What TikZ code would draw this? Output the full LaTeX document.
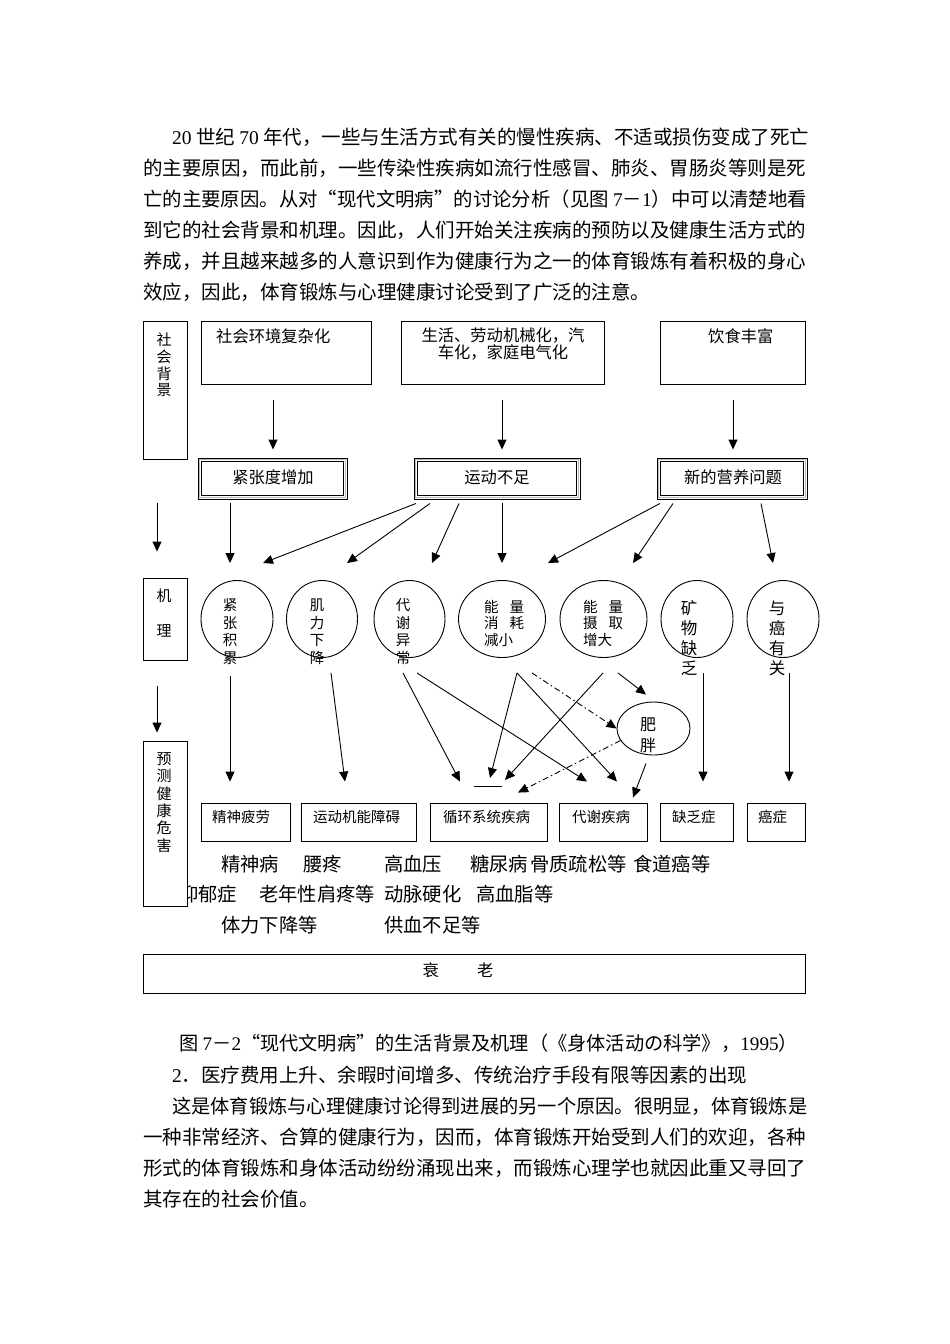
\documentclass[tikz,border=0pt]{standalone}
\usepackage{fontspec}
\setmainfont{Noto Sans CJK SC}
\newfontfamily\lat{Liberation Serif}
\usetikzlibrary{arrows.meta,calc,shapes.geometric}
\newcommand\myoq{\makebox[1em][r]{“}}
\newcommand\mycq{\makebox[1em][l]{”}}
\newcommand\rbox[6][]{\node[box,#1,minimum width={(#5-#3)*1pt},minimum height={(#6-#4)*1pt}] (#2) at ({(#3+#5)/2},{(#4+#6)/2}) {};}
\newcommand\dblin[1]{%
  \draw[gray!55,line width=1pt] ($(#1.north west)+(2,2)$) rectangle ($(#1.south east)+(-2,-2)$);
  \draw[line width=1.3pt] ($(#1.north west)+(3.8,3.8)$) rectangle ($(#1.south east)+(-3.8,-3.8)$);}
\begin{document}
\begin{tikzpicture}[x=1pt,y=-1pt,
  box/.style={draw,line width=0.9pt,inner sep=0,fill=white},
  circ/.style={draw,ellipse,line width=0.9pt,inner sep=0},
  arr/.style={-{Triangle[length=10pt,width=9pt]},line width=0.9pt},
  ddarr/.style={arr,dash pattern=on 6pt off 3pt on 1.5pt off 3pt},
  body/.style={inner sep=0,anchor=west,font=\fontsize{19.5}{19.5}\selectfont},
  row/.style={inner sep=0,anchor=west,font=\fontsize{19.3}{19.3}\selectfont},
  t16/.style={inner sep=0,font=\fontsize{16.3}{17}\selectfont},
  small/.style={inner sep=0,anchor=west,font=\fontsize{14.5}{14.5}\selectfont},
  vt/.style={inner sep=0,align=center,font=\fontsize{14.5}{17.5}\selectfont},
  vtb/.style={inner sep=0,align=center,font=\fontsize{16.5}{20}\selectfont},
  lv/.style={inner sep=0,align=center,font=\fontsize{15}{17.3}\selectfont}]
\useasboundingbox[fill=white] (0,0) rectangle (950,1344);

% ---------- body text above ----------
\node[body] (p1) at (172,137) {{\lat 20} 世纪 {\lat 70} 年代，一些与生活方式有关的慢性疾病、不适或损伤变成了死亡};
\node[body] (p2) at (143,168) {的主要原因，而此前，一些传染性疾病如流行性感冒、肺炎、胃肠炎等则是死};
\node[body,font=\fontsize{19.4}{19.4}\selectfont] (p3) at (143,199) {亡的主要原因。从对\myoq 现代文明病\mycq 的讨论分析（见图 {\lat 7}－{\lat 1}）中可以清楚地看};
\node[body] (p4) at (143,230) {到它的社会背景和机理。因此，人们开始关注疾病的预防以及健康生活方式的};
\node[body] (p5) at (143,261) {养成，并且越来越多的人意识到作为健康行为之一的体育锻炼有着积极的身心};
\node[body] (p6) at (143,292) {效应，因此，体育锻炼与心理健康讨论受到了广泛的注意。};

% ---------- top boxes ----------
\rbox{T1}{201}{321}{371}{384}
\rbox{T2}{401}{321}{604}{384}
\rbox{T3}{660}{321}{805}{384}
\node[t16,anchor=west] (T1t) at (216,336) {社会环境复杂化};
\node[t16,align=center] (T2t) at (503,344.5) {生活、劳动机械化，汽\\车化，家庭电气化};
\node[t16,anchor=west] (T3t) at (708,336) {饮食丰富};

% ---------- double boxes ----------
\rbox{D1}{198}{458}{347}{499}\dblin{D1}
\rbox{D2}{414}{458}{580}{499}\dblin{D2}
\rbox{D3}{657}{458}{807}{499}\dblin{D3}
\node[t16] (D1t) at (273,477) {紧张度增加};
\node[t16] (D2t) at (497,477) {运动不足};
\node[t16] (D3t) at (733,477) {新的营养问题};

\draw[arr] ($(T1.south)+(-13,16)$) -- ($(D1.north)+(0.5,-8)$);
\draw[arr] ($(T2.south)+(-0.5,16)$) -- ($(D2.north)+(5,-8)$);
\draw[arr] ($(T3.south)+(0.5,16)$) -- ($(D3.north)+(1,-8)$);

% ---------- mechanism ellipses ----------
\node[circ,minimum width=72pt,minimum height=77pt] (c1) at (237,619) {};
\node[circ,minimum width=71pt,minimum height=77pt] (c2) at (322,619) {};
\node[circ,minimum width=71pt,minimum height=77pt] (c3) at (409.5,619) {};
\node[circ,minimum width=87pt,minimum height=77pt] (c4) at (502,619) {};
\node[circ,minimum width=87pt,minimum height=77pt] (c5) at (603.5,619) {};
\node[circ,minimum width=72pt,minimum height=77pt] (c6) at (697,619) {};
\node[circ,minimum width=72pt,minimum height=77pt] (c7) at (783,619) {};
\node[vt] (c1t) at (230,631.5) {紧\\张\\积\\累};
\node[vt] (c2t) at (317,631.5) {肌\\力\\下\\降};
\node[vt] (c3t) at (403,631.5) {代\\谢\\异\\常};
\node[vt,align=left,anchor=west,font=\fontsize{14.5}{16.5}\selectfont] (c4t) at (484,623) {能\hspace{11pt}量\\消\hspace{11pt}耗\\减小};
\node[vt,align=left,anchor=west,font=\fontsize{14.5}{16.5}\selectfont] (c5t) at (583,623) {能\hspace{11pt}量\\摄\hspace{11pt}取\\增大};
\node[vtb] (c6t) at (689,638) {矿\\物\\缺\\乏};
\node[vtb] (c7t) at (777,638) {与\\癌\\有\\关};

\node[circ,minimum width=73pt,minimum height=53pt] (fat) at (653.5,728.5) {};
\node[inner sep=0,align=center,font=\fontsize{16}{21}\selectfont] (fatt) at (648,735) {肥\\胖};

% arrows double boxes -> ellipses
\draw[arr] ($(D1.south)+(-42.5,4)$) -- ($(c1.north)+(-7,-17)$);
\draw[arr] ($(D2.south)+(-81,4)$) -- ($(c1.north)+(26,-17)$);
\draw[arr] ($(D2.south)+(-67,4)$) -- ($(c2.north)+(25,-17)$);
\draw[arr] ($(D2.south)+(-38,4)$) -- ($(c3.north)+(22.5,-17)$);
\draw[arr] ($(D2.south)+(5,4)$) -- ($(c4.north)+(0,-17)$);
\draw[arr] ($(D3.south)+(-72,4)$) -- ($(c4.north)+(46,-17)$);
\draw[arr] ($(D3.south)+(-59,4)$) -- ($(c5.north)+(29.5,-17)$);
\draw[arr] ($(D3.south)+(29,4)$) -- ($(c7.north)+(-10,-17)$);

% ---------- bottom boxes ----------
\rbox{r1}{201}{803}{290}{841}
\rbox{r2}{301}{803}{416}{841}
\rbox{r3}{430}{803}{547}{841}
\rbox{r4}{559}{803}{647}{841}
\rbox{r5}{660}{803}{733}{841}
\rbox{r6}{747}{803}{805}{841}
\node[small] (r1t) at (212,817) {精神疲劳};
\node[small] (r2t) at (313,817) {运动机能障碍};
\node[small] (r3t) at (443,817) {循环系统疾病};
\node[small] (r4t) at (572,817) {代谢疾病};
\node[small] (r5t) at (672,817) {缺乏症};
\node[small] (r6t) at (758,817) {癌症};

% short bar
\coordinate (barL) at (474,786);
\coordinate (barR) at (502,786);
\draw[line width=0.9pt] (barL) -- (barR);

% arrows ellipses -> diseases
\draw[arr] ($(c1.south)+(-7,18)$) -- ($(r1.north)+(-15.5,-21)$);
\draw[arr] ($(c2.south)+(9,15)$) -- ($(r2.north)+(-13.5,-21)$);
\draw[arr] ($(c3.south)+(-6.5,15)$) -- ($(r3.north)+(-28.5,-21)$);
\draw[arr] ($(c3.south)+(7.5,15)$) -- ($(r4.north)+(-16,-21)$);
\draw[arr] ($(c4.south)+(15,15)$) -- ($(barL)+(16,-8)$);
\draw[arr] ($(c4.south)+(15,15)$) -- ($(r4.north)+(14,-21)$);
\draw[ddarr] ($(c4.south)+(30,15)$) -- (fat.west);
\draw[arr] ($(c5.south)+(-0.5,15)$) -- ($(barR)+(3,-6)$);
\draw[arr] ($(c5.south)+(14.5,15)$) -- ($(fat.north)+(-7.5,-7)$);
\draw[ddarr] (fat.200) -- ($(r3.north)+(29.5,-10)$);
\draw[arr] ($(fat.south)+(-7.5,8)$) -- ($(r4.north)+(30,-5)$);
\draw[arr] ($(c6.south)+(6,15)$) -- ($(r5.north)+(6.5,-21)$);
\draw[arr] ($(c7.south)+(6,15)$) -- ($(r6.north)+(13,-21)$);

% ---------- text rows ----------
\node[row] (e1) at (221,864) {精神病};
\node[row] (e2) at (303,864) {腰疼};
\node[row] (e3) at (384,864) {高血压};
\node[row] (e4) at (470,864) {糖尿病};
\node[row] (e5) at (530,864) {骨质疏松等};
\node[row] (e6) at (633,864) {食道癌等};
\node[row] (f1) at (179,894) {抑郁症};
\node[row] (f2) at (259,894) {老年性肩疼等};
\node[row] (f3) at (384,894) {动脉硬化};
\node[row] (f4) at (476,894) {高血脂等};
\node[row] (g1) at (221,925) {体力下降等};
\node[row] (g2) at (384,925) {供血不足等};

% ---------- left column ----------
\rbox{L1}{143}{321}{187}{459}
\rbox{L2}{143}{578}{187}{660}
\rbox{L3}{143}{741}{187}{906}
\node[lv,font=\fontsize{15}{16.7}\selectfont] (L1t) at (164,365) {社\\会\\背\\景};
\node[lv,font=\fontsize{15}{35}\selectfont] (L2t) at (164,613.5) {机\\理};
\node[lv] (L3t) at (164,802.5) {预\\测\\健\\康\\危\\害};
\draw[arr] ($(L1.south)+(-8,44)$) -- ($(L2.north)+(-8,-26)$);
\draw[arr] ($(L2.south)+(-8,26)$) -- ($(L3.north)+(-8,-8)$);

% ---------- ageing ----------
\rbox{A}{143}{954}{805}{993}
\node[t16] (At) at (458,970) {衰\hspace{38pt}老};

% ---------- text below ----------
\node[body,font=\fontsize{19.2}{19.2}\selectfont] (q1) at (179,1043) {图 {\lat 7}－{\lat 2}\myoq 现代文明病\mycq 的生活背景及机理（《身体活动の科学》，{\lat 1995}）};
\node[body] (q2) at (172,1075) {{\lat 2}．医疗费用上升、余暇时间增多、传统治疗手段有限等因素的出现};
\node[body,font=\fontsize{19.25}{19.25}\selectfont] (q3) at (172,1106) {这是体育锻炼与心理健康讨论得到进展的另一个原因。很明显，体育锻炼是};
\node[body] (q4) at (143,1137) {一种非常经济、合算的健康行为，因而，体育锻炼开始受到人们的欢迎，各种};
\node[body] (q5) at (143,1168) {形式的体育锻炼和身体活动纷纷涌现出来，而锻炼心理学也就因此重又寻回了};
\node[body] (q6) at (143,1199) {其存在的社会价值。};
\end{tikzpicture}
\end{document}
